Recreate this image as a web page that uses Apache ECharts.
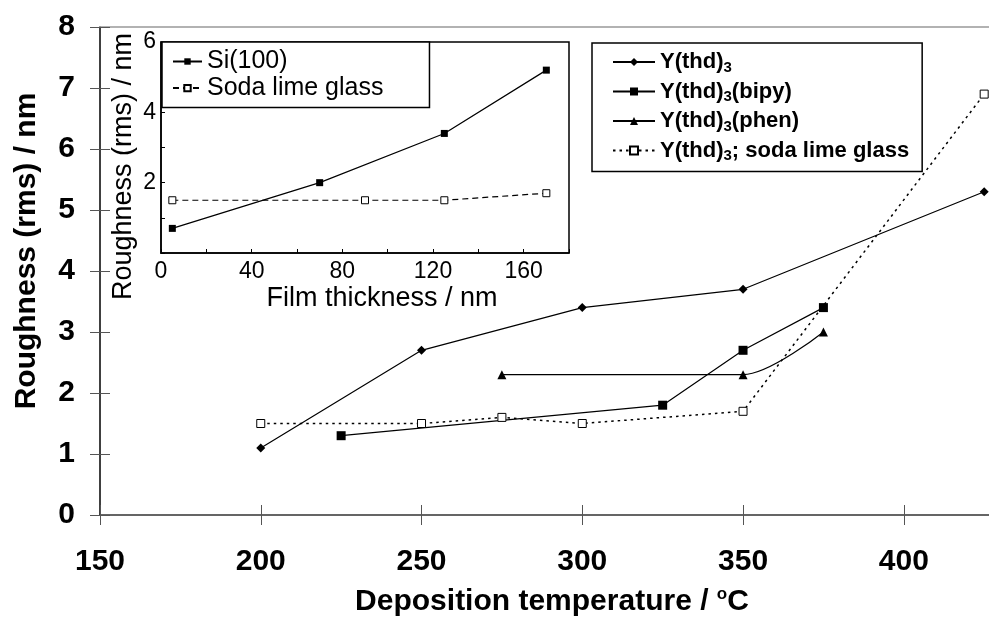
<!DOCTYPE html>
<html>
<head>
<meta charset="utf-8">
<script src="https://cdn.jsdelivr.net/npm/echarts@6/dist/echarts.min.js"></script>
<style>
html,body{margin:0;padding:0;background:#fff;}
#chart{width:989px;height:622px;}
</style>
</head>
<body>
<div id="chart"></div>
<script>
// ---- Main chart data (Deposition temperature / °C vs roughness / nm) ----
const thdTemps = [200, 250, 300, 350, 425];
const thdVals = [1.1, 2.7, 3.4, 3.7, 5.3];
const bipyTemps = [225, 325, 350, 375];
const bipyVals = [1.3, 1.8, 2.7, 3.4];
const phenTemps = [275, 350, 375];
const phenVals = [2.3, 2.3, 3.0];
const glassTemps = [200, 250, 275, 300, 350, 425];
const glassVals = [1.5, 1.5, 1.6, 1.5, 1.7, 6.9];
const mainNames = ['Y(thd)3', 'Y(thd)3(bipy)', 'Y(thd)3(phen)', 'Y(thd)3; soda lime glass'];

// ---- Inset data (film thickness / nm vs roughness / nm) ----
const siThick = [5, 70, 125, 170];
const siVals = [0.7, 2.0, 3.4, 5.2];
const slgThick = [5, 90, 125, 170];
const slgVals = [1.5, 1.5, 1.5, 1.7];
const insetNames = ['Si(100)', 'Soda lime glass'];

const FONT = "'Liberation Sans', Arial, Helvetica, sans-serif";
function pairs(xs, ys) { return xs.map((x, i) => [x, ys[i]]); }

const chart = echarts.init(document.getElementById('chart'), null, {renderer: 'canvas'});

const tickGray = '#555';

const option = {
  animation: false,
  backgroundColor: '#fff',
  textStyle: {fontFamily: FONT, color: '#000'},
  grid: [
    {left: 100, top: 27, right: 0, bottom: 102, show: false},
    {left: 161, top: 42, width: 408, height: 211, show: true, borderColor: '#000', borderWidth: 1.5, backgroundColor: '#fff'}
  ],
  xAxis: [
    {
      gridIndex: 0, type: 'value', min: 150, max: 426.5, interval: 50, position: 'bottom',
      axisLine: {lineStyle: {color: '#333', width: 1.5}},
      axisTick: {length: 10, lineStyle: {color: tickGray}},
      axisLabel: {margin: 32, fontSize: 30, fontWeight: 'bold', color: '#000', fontFamily: FONT,
        showMaxLabel: false, formatter: v => (v % 50 === 0 ? String(v) : '')},
      splitLine: {show: false},
      name: '{a|Deposition temperature / }{b|o}{a|C}',
      nameLocation: 'middle', nameGap: 71,
      nameTextStyle: {
        padding: [0, 0, 0, 15],
        rich: {
          a: {fontSize: 30, fontWeight: 'bold', fontFamily: FONT, color: '#000', lineHeight: 32},
          b: {fontSize: 17, fontWeight: 'bold', fontFamily: FONT, color: '#000', lineHeight: 17, verticalAlign: 'top'}
        }
      }
    },
    {
      gridIndex: 0, type: 'value', min: 150, max: 426.5, interval: 50, position: 'bottom',
      axisLine: {show: false}, axisTick: {inside: true, length: 10, lineStyle: {color: tickGray}},
      axisLabel: {show: false}, splitLine: {show: false}
    },
    {
      gridIndex: 0, type: 'value', min: 150, max: 426.5, position: 'top',
      axisLine: {lineStyle: {color: '#999', width: 1.5}}, axisTick: {show: false},
      axisLabel: {show: false}, splitLine: {show: false}
    },
    {
      gridIndex: 1, type: 'value', min: 0, max: 180, interval: 20,
      axisLine: {lineStyle: {color: '#000', width: 1.5}},
      axisTick: {inside: true, length: 4, lineStyle: {color: '#000'}},
      axisLabel: {margin: 7, fontSize: 23, color: '#000', fontFamily: FONT,
        formatter: v => (v % 40 === 0 ? String(v) : '')},
      splitLine: {show: false},
      name: 'Film thickness / nm', nameLocation: 'middle', nameGap: 32,
      nameTextStyle: {fontSize: 27, color: '#000', fontFamily: FONT, padding: [0, 0, 0, 34]}
    }
  ],
  yAxis: [
    {
      gridIndex: 0, type: 'value', min: 0, max: 8, interval: 1, position: 'left',
      axisLine: {show: true, lineStyle: {color: '#000', width: 1.5}},
      axisTick: {show: true, length: 10, lineStyle: {color: tickGray}},
      axisLabel: {margin: 25, fontSize: 30, fontWeight: 'bold', color: '#000', fontFamily: FONT},
      splitLine: {show: false}
    },
    {
      gridIndex: 0, type: 'value', min: 0, max: 8, interval: 1, position: 'left', offset: 0,
      axisLine: {show: false},
      axisTick: {show: true, inside: true, length: 10, lineStyle: {color: tickGray}},
      axisLabel: {show: false}, splitLine: {show: false}
    },
    {
      gridIndex: 1, type: 'value', min: 0, max: 6, interval: 1, position: 'left',
      axisLine: {show: true, lineStyle: {color: '#000', width: 1.5}},
      axisTick: {show: true, inside: true, length: 4, lineStyle: {color: '#000'}},
      axisLabel: {margin: 5, fontSize: 23, color: '#000', fontFamily: FONT,
        formatter: v => ((v === 2 || v === 4 || v === 6) ? String(v) : '')},
      splitLine: {show: false}
    }
  ],
  legend: [
    {
      data: mainNames, orient: 'vertical', left: 592, top: 43,
      padding: [8, 13, 8, 20], itemWidth: 42, itemHeight: 10, itemGap: 5.5,
      borderColor: '#000', borderWidth: 1.5, backgroundColor: '#fff',
      formatter: function (name) {
        const rest = name.slice(7);
        return '{b|Y(thd)}{s|3}' + (rest ? '{b|' + rest + '}' : '');
      },
      textStyle: {
        rich: {
          b: {fontSize: 22, fontWeight: 'bold', fontFamily: FONT, color: '#000', lineHeight: 26},
          s: {fontSize: 15, fontWeight: 'bold', fontFamily: FONT, color: '#000', lineHeight: 15, verticalAlign: 'bottom'}
        }
      }
    },
    {
      data: insetNames, orient: 'vertical', left: 162, top: 42,
      padding: [7, 46, 7, 10], itemWidth: 29, itemHeight: 8, itemGap: 1.6,
      borderColor: '#000', borderWidth: 1.5, backgroundColor: '#fff',
      textStyle: {fontSize: 25, fontFamily: FONT, color: '#000'}
    }
  ],
  graphic: [
    {
      type: 'text', x: 27, y: 251, rotation: Math.PI / 2,
      style: {text: 'Roughness (rms) / nm', fontSize: 30, fontWeight: 'bold', fontFamily: FONT,
        fill: '#000', align: 'center', verticalAlign: 'middle', textAlign: 'center', textVerticalAlign: 'middle'}
    },
    {
      type: 'text', x: 124, y: 166.5, rotation: Math.PI / 2, z: 10,
      style: {text: 'Roughness (rms) / nm', fontSize: 27, fontFamily: FONT,
        fill: '#000', align: 'center', verticalAlign: 'middle', textAlign: 'center', textVerticalAlign: 'middle'}
    }
  ],
  series: [
    {
      name: mainNames[0], type: 'line', xAxisIndex: 0, yAxisIndex: 0,
      data: pairs(thdTemps, thdVals), symbol: 'diamond', symbolSize: 9,
      itemStyle: {color: '#000'}, lineStyle: {color: '#000', width: 1.2}
    },
    {
      name: mainNames[1], type: 'line', xAxisIndex: 0, yAxisIndex: 0,
      data: pairs(bipyTemps, bipyVals), symbol: 'rect', symbolSize: 9,
      itemStyle: {color: '#000'}, lineStyle: {color: '#000', width: 1.2}
    },
    {
      name: mainNames[2], type: 'line', xAxisIndex: 0, yAxisIndex: 0, smooth: 0.3,
      data: pairs(phenTemps, phenVals), symbol: 'triangle', symbolSize: 9,
      itemStyle: {color: '#000'}, lineStyle: {color: '#000', width: 1.2}
    },
    {
      name: mainNames[3], type: 'line', xAxisIndex: 0, yAxisIndex: 0,
      data: pairs(glassTemps, glassVals), symbol: 'rect', symbolSize: 8,
      itemStyle: {color: '#fff', borderColor: '#000', borderWidth: 1},
      lineStyle: {color: '#000', width: 1.5, type: [2.5, 4]}
    },
    {
      name: insetNames[0], type: 'line', xAxisIndex: 3, yAxisIndex: 2,
      data: pairs(siThick, siVals), symbol: 'rect', symbolSize: 7,
      itemStyle: {color: '#000'}, lineStyle: {color: '#000', width: 1.2}
    },
    {
      name: insetNames[1], type: 'line', xAxisIndex: 3, yAxisIndex: 2,
      data: pairs(slgThick, slgVals), symbol: 'rect', symbolSize: 7,
      itemStyle: {color: '#fff', borderColor: '#000', borderWidth: 1},
      lineStyle: {color: '#000', width: 1.2, type: [6, 4]}
    }
  ]
};

chart.setOption(option);
</script>
</body>
</html>
